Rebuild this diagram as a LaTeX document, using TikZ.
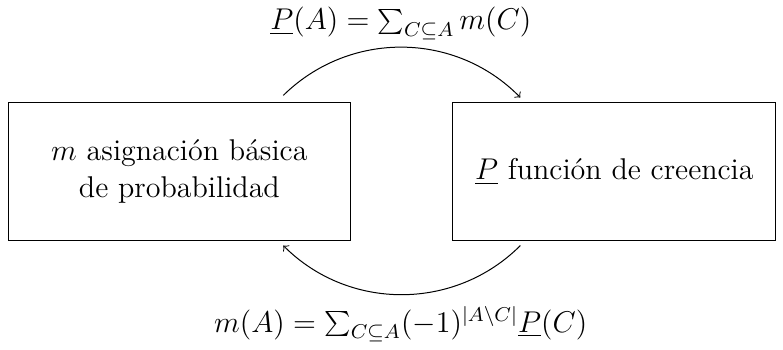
\documentclass[12pt,tikz,border=0pt]{standalone}
\usetikzlibrary{positioning}
\begin{document}
\begin{tikzpicture}[>=to, line width=0.4pt,
    bloque/.style={draw, align=center, minimum height=1.95cm},
    formula/.style={inner sep=0pt}]
    \useasboundingbox (0,0) rectangle (11.0,4.91);

    % Bloques
    \node[bloque, minimum width=4.81cm] (m) at (2.52,2.50) {$m$ asignación básica\\ de probabilidad};
    \node[bloque, minimum width=4.54cm] (P) at (8.63,2.50) {$\underline{P}$ función de creencia};

    % Extremos de los arcos (fuera de los bloques)
    \coordinate (mSup) at (3.98,3.57);
    \coordinate (PSup) at (7.31,3.54);
    \coordinate (PInf) at (7.31,1.46);
    \coordinate (mInf) at (3.98,1.46);

    % Fórmulas
    \node[formula] (creencia) at (5.63,4.58) {$\underline{P}(A)=\sum_{C\subseteq A} m(C)$};
    \node[formula] (moebius) at (5.63,0.36) {$m(A)=\sum_{C\subseteq A}(-1)^{|A\setminus C|}\underline{P}(C)$};

    % Arcos
    \draw[->] (mSup) to[bend left=45] (PSup);
    \draw[->] (PInf) to[bend left=45] (mInf);
\end{tikzpicture}
\end{document}
